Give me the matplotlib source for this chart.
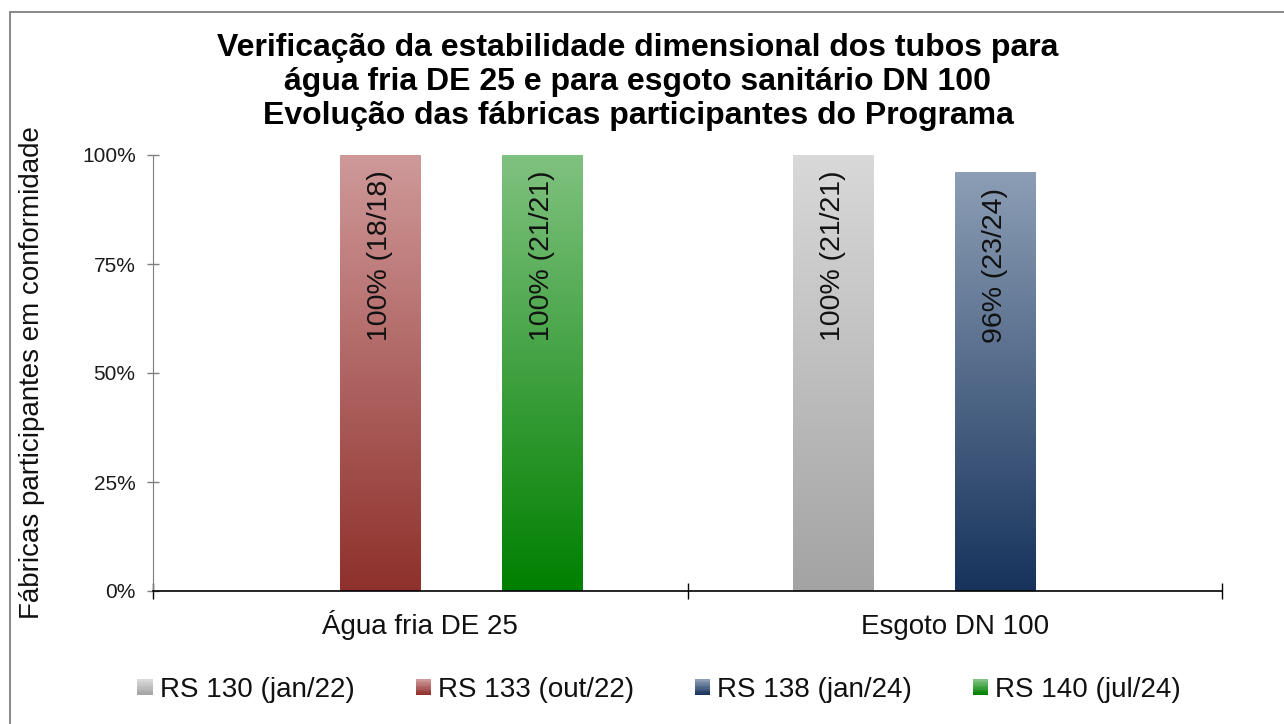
import numpy as np
import matplotlib
matplotlib.use("Agg")
import matplotlib.pyplot as plt
from matplotlib.patches import Rectangle
from matplotlib.colors import LinearSegmentedColormap
from matplotlib.ticker import FuncFormatter, FixedLocator

plt.rcParams['font.family'] = ['Liberation Sans', 'DejaVu Sans']

categories = ["Água fria DE 25", "Esgoto DN 100"]
series_names = ["RS 130 (jan/22)", "RS 133 (out/22)", "RS 138 (jan/24)", "RS 140 (jul/24)"]
values_rs130 = [np.nan, 100]
values_rs133 = [100, np.nan]
values_rs138 = [np.nan, 96]
values_rs140 = [100, np.nan]
counts_rs130 = ["", "(21/21)"]
counts_rs133 = ["(18/18)", ""]
counts_rs138 = ["", "(23/24)"]
counts_rs140 = ["(21/21)", ""]
yticks = [0, 25, 50, 75, 100]

series_values = [values_rs130, values_rs133, values_rs138, values_rs140]
series_counts = [counts_rs130, counts_rs133, counts_rs138, counts_rs140]
grad_colors = [
    ((0.85, 0.85, 0.85), (0.64, 0.64, 0.64)),
    ((0.81, 0.60, 0.60), (0.56, 0.19, 0.17)),
    ((0.55, 0.62, 0.71), (0.09, 0.20, 0.36)),
    ((0.50, 0.76, 0.50), (0.00, 0.50, 0.00)),
]

W, H = 1284, 724
fig = plt.figure(figsize=(W / 100, H / 100), dpi=100)
ax = fig.add_axes([153 / W, 1 - 591 / H, (1222 - 153) / W, (591 - 155) / H])

# figure border
fig.patches.append(Rectangle((10 / W, -0.05), 1.2, 1 - 12 / H + 0.05,
                             transform=fig.transFigure, fill=False,
                             edgecolor='#7f7f7f', lw=1.3, zorder=0))

x = np.arange(len(categories))
n = len(series_names)
slot = 0.1517
width = 0.15

for i, (vals, cnts, (ctop, cbot)) in enumerate(zip(series_values, series_counts, grad_colors)):
    offs = (i - (n - 1) / 2) * slot
    bars = ax.bar(x + offs, np.nan_to_num(vals), width, color='none', edgecolor='none',
                  label=series_names[i])
    cmap = LinearSegmentedColormap.from_list(f"g{i}", [cbot, ctop])
    grad = np.linspace(0, 1, 256).reshape(-1, 1)
    for b, v, c in zip(bars, vals, cnts):
        if np.isnan(v):
            continue
        x0, y0 = b.get_x(), b.get_y()
        w, h = b.get_width(), b.get_height()
        ax.imshow(grad, cmap=cmap, origin='lower', aspect='auto',
                  extent=(x0, x0 + w, y0, y0 + h), zorder=2)
        ax.text(x0 + w / 2, y0 + h - 3.5, f"{v:.0f}% {c}", rotation=90,
                ha='center', va='top', fontsize=20.5, color='#111111', zorder=3)

ax.set_xlim(-0.5, len(categories) - 0.5)
ax.set_ylim(0, 100)
ax.set_aspect('auto')

ax.yaxis.set_major_locator(FixedLocator(yticks))
ax.yaxis.set_major_formatter(FuncFormatter(lambda v, p: f"{v:.0f}%"))
ax.tick_params(axis='y', direction='inout', length=9, width=1, color='#7f7f7f',
               labelsize=15, pad=8, labelcolor='#1a1a1a')

ax.set_xticks(np.arange(-0.5, len(categories)), minor=False)
ax.set_xticklabels([])
ax.set_xticks(x, minor=True)
ax.set_xticklabels(categories, minor=True)
ax.tick_params(axis='x', which='major', direction='inout', length=12, width=1, color='black')
ax.tick_params(axis='x', which='minor', length=0, labelsize=20, pad=31, labelcolor='#111111')
for lbl in ax.get_xticklabels(minor=True):
    lbl.set_verticalalignment('baseline')

for s in ['top', 'right']:
    ax.spines[s].set_visible(False)
ax.spines['left'].set_color('#7f7f7f')
ax.spines['bottom'].set_color('black')
ax.spines['bottom'].set_linewidth(1.2)

ax.set_ylabel("Fábricas participantes em conformidade", fontsize=20, color='#111111')
ax.yaxis.set_label_coords(-108 / (1222 - 153), 0.5)

fig.text(638 / W, 1 - 82 / H,
         "Verificação da estabilidade dimensional dos tubos para\n"
         "água fria DE 25 e para esgoto sanitário DN 100\n"
         "Evolução das fábricas participantes do Programa",
         ha='center', va='center', fontsize=23, fontweight='bold', linespacing=1.16)


class GradHandler:
    def __init__(self, ctop, cbot):
        self.ctop = np.array(ctop)
        self.cbot = np.array(cbot)

    def legend_artist(self, legend, orig_handle, fontsize, handlebox):
        x0, y0 = handlebox.xdescent, handlebox.ydescent
        w, h = handlebox.width, handlebox.height
        size = 11
        left = x0 + w - size
        bottom = y0 + (h - size) / 2
        k = 12
        for j in range(k):
            t = j / (k - 1)
            col = self.cbot * (1 - t) + self.ctop * t
            r = Rectangle((left, bottom + j * size / k), size, size / k + 0.3,
                          facecolor=col, edgecolor='none',
                          transform=handlebox.get_transform())
            handlebox.add_artist(r)
        return r


handles = [Rectangle((0, 0), 1, 1) for _ in series_names]
handler_map = {h: GradHandler(*grad_colors[i]) for i, h in enumerate(handles)}
fig.legend(handles, series_names, handler_map=handler_map, loc='center',
           bbox_to_anchor=(660 / W, 1 - 690 / H), ncol=4, frameon=False,
           fontsize=20, handlelength=0.5, handletextpad=0.25, columnspacing=2.25,
           labelcolor='#111111')

fig.savefig("out.png", dpi=100)
